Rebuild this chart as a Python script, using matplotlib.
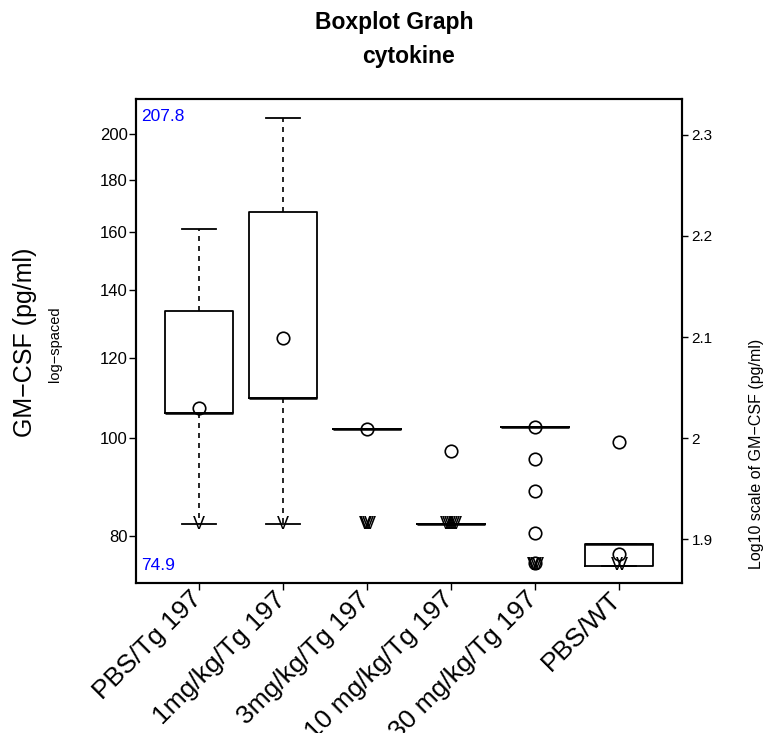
import numpy as np
import matplotlib
matplotlib.use('Agg')
import matplotlib.pyplot as plt
import matplotlib.transforms as mtransforms

plt.rcParams['font.family'] = ['Liberation Sans', 'DejaVu Sans']

# groups
groups = ['PBS/Tg 197', '1mg/kg/Tg 197', '3mg/kg/Tg 197',
          '10 mg/kg/Tg 197', '30 mg/kg/Tg 197', 'PBS/WT']

# box statistics (pg/ml)
q1 = [105.9, 109.5, 102.1, 82.2, 102.5, 74.7]
q3 = [133.6, 167.2, 102.1, 82.2, 102.5, 78.5]
med = [105.9, 109.5, 102.1, 82.2, 102.5, 78.5]
whislo = [82.2, 82.2, 102.1, 82.2, 102.5, 74.7]
whishi = [161.0, 207.1, 102.1, 82.2, 102.5, 78.5]

# measured points drawn as open circles
points = [
    [107.1],
    [125.5],
    [102.1],
    [97.1],
    [102.5, 95.3, 88.7, 80.6, 75.2],
    [99.2, 76.9],
]

# values below the detection limit, drawn as "V"
lloq_value = [82.2, 82.2, 82.2, 82.2, 74.9, 74.9]
lloq_count = [1, 1, 4, 6, 4, 2]
lloq_step = [0.0, 0.0, 0.02, 0.024, 0.02, 0.06]

data_min = 74.9
data_max = 207.8

left_ticks = [80, 100, 120, 140, 160, 180, 200]
right_ticks = [1.9, 2.0, 2.1, 2.2, 2.3]

fig = plt.figure(figsize=(7.66, 7.33), dpi=100)
ax = fig.add_axes([136 / 766, 1 - 583 / 733, 546 / 766, 484 / 733])

pos = np.arange(1, len(groups) + 1)
stats = []
for i in range(len(groups)):
    stats.append(dict(med=med[i], q1=q1[i], q3=q3[i],
                      whislo=whislo[i], whishi=whishi[i], fliers=[]))

ax.bxp(stats, positions=pos, widths=0.8, capwidths=0.4, showfliers=False,
       boxprops=dict(color='black', linewidth=1.3),
       medianprops=dict(color='black', linewidth=1.8),
       whiskerprops=dict(color='black', linewidth=1.2, linestyle=(0, (3, 3))),
       capprops=dict(color='black', linewidth=1.3))

for i, pts in enumerate(points):
    ax.plot([pos[i]] * len(pts), pts, linestyle='none', marker='o',
            markersize=9, markerfacecolor='none', markeredgecolor='black',
            markeredgewidth=1.2, zorder=4)

# "V" symbols, spread a little when several sit on the same value
for i in range(len(groups)):
    n = lloq_count[i]
    for k in range(n):
        dx = (k - (n - 1) / 2) * lloq_step[i]
        ax.text(pos[i] + dx, lloq_value[i], 'V', ha='center', va='center',
                fontsize=13, color='black', zorder=5)

ax.set_yscale('log')
lo = np.log10(data_min)
hi = np.log10(data_max)
pad = (hi - lo) * 0.04
ax.set_ylim(10 ** (lo - pad), 10 ** (hi + pad))
ax.set_xlim(0.25, 6.75)

ax.yaxis.set_minor_locator(matplotlib.ticker.NullLocator())
ax.set_yticks(left_ticks)
ax.set_yticklabels([str(t) for t in left_ticks])
ax.set_xticks(pos)
ax.set_xticklabels([])
ax.tick_params(axis='y', length=5, width=1, labelsize=12, pad=1)
ax.tick_params(axis='x', length=5, width=1)

for sp in ax.spines.values():
    sp.set_linewidth(1.5)

# rotated group names
for i, g in enumerate(groups):
    ax.annotate(g, xy=(pos[i], 0), xycoords=('data', 'axes fraction'),
                xytext=(-1, -9), textcoords='offset points',
                rotation=45, ha='right', va='center', rotation_mode='anchor',
                fontsize=19)

# min / max labels
trans = mtransforms.blended_transform_factory(ax.transAxes, ax.transData)
ax.text(0.009, data_max, '%.1f' % data_max, transform=trans, color='blue',
        ha='left', va='center', fontsize=12.5)
ax.text(0.009, data_min, '%.1f' % data_min, transform=trans, color='blue',
        ha='left', va='center', fontsize=12.5)

# right axis on log10 scale
ax2 = ax.twinx()
ax2.set_yscale('log')
ax2.set_ylim(ax.get_ylim())
ax2.yaxis.set_minor_locator(matplotlib.ticker.NullLocator())
ax2.set_yticks([10 ** v for v in right_ticks])
ax2.set_yticklabels(['%g' % v for v in right_ticks])
ax2.tick_params(axis='y', length=4, width=1, labelsize=11, pad=3)
for sp in ax2.spines.values():
    sp.set_linewidth(1.5)

fig.text(394 / 766, 1 - 29.5 / 733, 'Boxplot Graph', ha='center',
         va='baseline', fontsize=16.5, fontweight='bold')
fig.text(409 / 766, 1 - 63.5 / 733, 'cytokine', ha='center',
         va='baseline', fontsize=16.5, fontweight='bold')

fig.text(25 / 766, 1 - 342 / 733, 'GM\u2212CSF (pg/ml)', rotation=90,
         ha='center', va='center', fontsize=18)
fig.text(55 / 766, 1 - 344 / 733, 'log\u2212spaced', rotation=90,
         ha='center', va='center', fontsize=10.5)
fig.text(756 / 766, 1 - 454 / 733, 'Log10 scale of GM\u2212CSF (pg/ml)',
         rotation=90, ha='center', va='center', fontsize=11.5)

fig.savefig('out.png', dpi=100)
